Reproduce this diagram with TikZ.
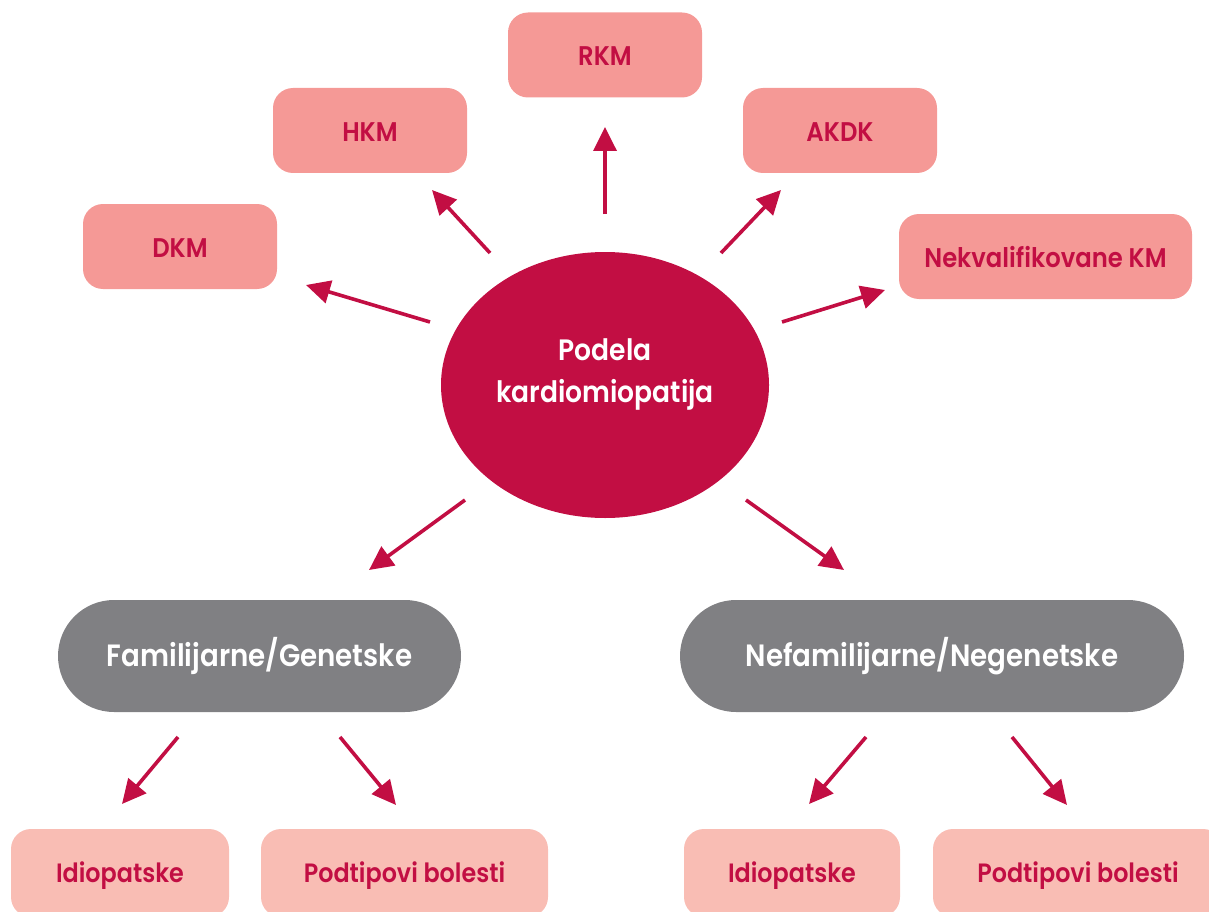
\documentclass[tikz,border=0pt]{standalone}
\usepackage{fontspec}
\usetikzlibrary{arrows.meta,shapes.geometric}
\newfontfamily\labelfont{Poppins SemiBold}[FakeStretch=0.9]

\definecolor{crimson}{HTML}{C20E43}
\definecolor{rose}{HTML}{F59996}
\definecolor{blush}{HTML}{F9BDB4}
\definecolor{slate}{HTML}{808083}

\tikzset{
  topbox/.style={fill=rose, rounded corners=20pt, minimum width=194pt,
    minimum height=85pt, inner sep=0pt, text=crimson,
    text height=21.5pt, text depth=0pt,
    font=\labelfont\fontsize{27}{30}\selectfont},
  groupbox/.style={fill=slate, rounded corners=56pt, minimum height=112pt,
    inner sep=0pt, text=white, font=\labelfont\fontsize{30.8}{34}\selectfont},
  leafbox/.style={fill=blush, rounded corners=20pt, minimum height=88pt,
    inner sep=0pt, text=crimson, text height=19.4pt, text depth=0pt,
    font=\labelfont\fontsize{26.5}{30}\selectfont},
  hub/.style={ellipse, fill=crimson, minimum width=328pt, minimum height=266pt,
    inner sep=0pt},
  hubtext/.style={text=white, align=center,
    font=\labelfont\fontsize{29.5}{42}\selectfont},
  link/.style={draw=crimson, line width=3.6pt,
    -{Triangle[length=24pt,width=23pt]}},
}

\begin{document}
\begin{tikzpicture}[x=1pt,y=-1pt]
  \useasboundingbox (0,0) rectangle (1209,912);
  \clip (0,0) rectangle (1209,912);

  % central hub
  \node[hub] (hub) at (605,385) {};
  \node[hubtext] (hubtext) at (605,374) {Podela\\kardiomiopatija};

  % top row of cardiomyopathy types
  \node[topbox] (rkm) at (605,55) {RKM};
  \node[topbox] (hkm) at (370,130.5) {HKM};
  \node[topbox] (akdk) at (840,130.5) {AKDK};
  \node[topbox] (dkm) at (180,246.5) {DKM};
  \node[topbox, minimum width=293pt] (nkm) at (1045.5,256.5) {Nekvalifikovane KM};

  % groups
  \node[groupbox, minimum width=403pt] (fam) at (259.5,656) {Familijarne/Genetske};
  \node[groupbox, minimum width=504pt] (nefam) at (932,656) {Nefamilijarne/Negenetske};

  % leaves
  \node[leafbox, minimum width=218pt] (idioL) at (120,873) {Idiopatske};
  \node[leafbox, minimum width=287pt] (podL) at (404.5,873) {Podtipovi bolesti};
  \node[leafbox, minimum width=216pt] (idioR) at (792,873) {Idiopatske};
  \node[leafbox, minimum width=290pt] (podR) at (1078,873) {Podtipovi bolesti};

  % connector ends
  \coordinate (rkmS) at (605,214);   \coordinate (rkmE) at (605,127);
  \coordinate (hkmS) at (490,253);   \coordinate (hkmE) at (432,190);
  \coordinate (akdkS) at (721,253);  \coordinate (akdkE) at (781,190);
  \coordinate (dkmS) at (430,322);   \coordinate (dkmE) at (306,285);
  \coordinate (nkmS) at (782,322);   \coordinate (nkmE) at (885,290);
  \coordinate (famS) at (465,500);   \coordinate (famE) at (369,570);
  \coordinate (nefamS) at (746,500); \coordinate (nefamE) at (844,570);
  \coordinate (idioLS) at (178,737); \coordinate (idioLE) at (122,804);
  \coordinate (podLS) at (340,737);  \coordinate (podLE) at (396,805);
  \coordinate (idioRS) at (866,737); \coordinate (idioRE) at (809,804);
  \coordinate (podRS) at (1012,737); \coordinate (podRE) at (1067,805);

  % connectors
  \draw[link] (rkmS) -- (rkmE);
  \draw[link] (hkmS) -- (hkmE);
  \draw[link] (akdkS) -- (akdkE);
  \draw[link] (dkmS) -- (dkmE);
  \draw[link] (nkmS) -- (nkmE);
  \draw[link] (famS) -- (famE);
  \draw[link] (nefamS) -- (nefamE);
  \draw[link] (idioLS) -- (idioLE);
  \draw[link] (podLS) -- (podLE);
  \draw[link] (idioRS) -- (idioRE);
  \draw[link] (podRS) -- (podRE);
\end{tikzpicture}
\end{document}
